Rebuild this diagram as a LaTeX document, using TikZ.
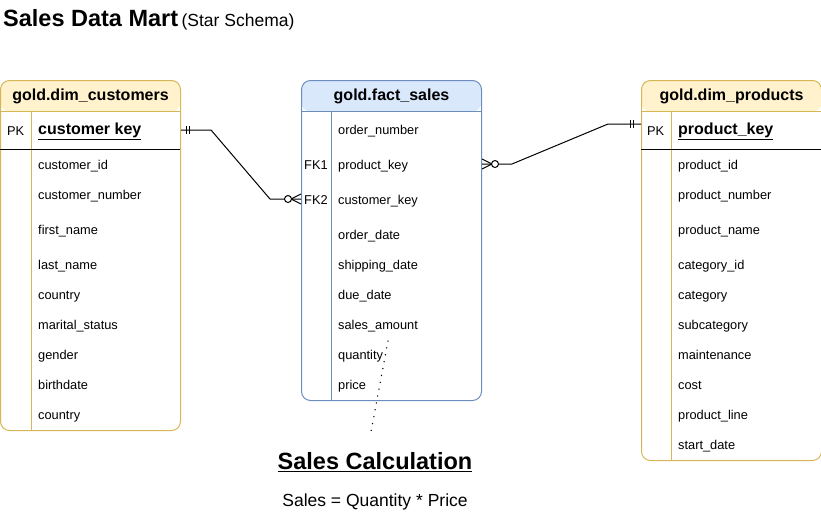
\documentclass[tikz,border=0pt]{standalone}
\usepackage{fontspec}
\setmainfont{Liberation Sans}
\usetikzlibrary{positioning,calc}
\definecolor{dimfill}{HTML}{FFF2CC}
\definecolor{dimline}{HTML}{D6B656}
\definecolor{factfill}{HTML}{DAE8FC}
\definecolor{factline}{HTML}{6C8EBF}

\begin{document}
\begin{tikzpicture}[x=1pt,y=-1pt,
  table/.style={draw=#1line,line width=1pt,rounded corners=9pt,minimum width=180pt,anchor=north west,inner sep=0pt,
    path picture={\fill[#1fill] (path picture bounding box.north west) rectangle ([yshift=-31pt]path picture bounding box.north east);}},
  tabletitle/.style={font=\fontsize{16}{19}\selectfont\bfseries,inner sep=0pt},
  field/.style={anchor=base west,font=\fontsize{12.8}{15}\selectfont,inner sep=0pt},
  keyfield/.style={anchor=west,font=\fontsize{16}{19}\selectfont\bfseries,inner sep=0pt},
  rel/.style={line width=1pt,black}]
  \useasboundingbox (0,0) rectangle (821,523);

  % title
  \node[anchor=base west,inner sep=0pt,font=\fontsize{23.5}{28}\selectfont\bfseries] (title) at (3,26) {Sales Data Mart};
  \node[anchor=base west,inner sep=0pt,font=\fontsize{17.5}{21}\selectfont] (subtitle) at ([xshift=3pt]title.base east) {(Star Schema)};

  % customers
  \node[table=dim,minimum height=350pt] (cust) at (0,80) {};
  \node[tabletitle] (custtitle) at ([yshift=-16.5pt]cust.north) {gold.dim\_customers};
  \draw[dimline,line width=1pt] (0,111) -- (180,111) (31,111) -- (31,430);
  \draw[black,line width=1pt] (0,149) -- (180,149);
  \node[field] (custpk) at (7,135.5) {PK};
  \node[keyfield] (custkey) at (38,131.5) {\underline{customer key}};
  \foreach \f/\y in {customer\_id/164,customer\_number/194,first\_name/229,last\_name/264,country/294,
      marital\_status/324,gender/354,birthdate/384,country/414}
    \node[field] (cust-\y) at (38,\y+5.5) {\f};

  % fact
  \node[table=fact,minimum height=320pt] (fact) at (301,80) {};
  \node[tabletitle] (facttitle) at ([yshift=-16.5pt]fact.north) {gold.fact\_sales};
  \draw[factline,line width=1pt] (301,111) -- (481,111) (331,111) -- (331,400);
  \coordinate (fk1) at (304,164);
  \coordinate (fk2) at (304,199);
  \node[field] (fk1label) at ([yshift=-5.5pt]fk1) {FK1};
  \node[field] (fk2label) at ([yshift=-5.5pt]fk2) {FK2};
  \foreach \f/\y in {order\_number/129,product\_key/164,customer\_key/199,order\_date/234,shipping\_date/264,
      due\_date/294,sales\_amount/324,quantity/354,price/384}
    \node[field] (fact-\y) at (338,\y+5.5) {\f};

  % products
  \node[table=dim,minimum height=380pt] (prod) at (641,80) {};
  \node[tabletitle] (prodtitle) at ([yshift=-16.5pt]prod.north) {gold.dim\_products};
  \draw[dimline,line width=1pt] (641,111) -- (821,111) (671,111) -- (671,460);
  \draw[black,line width=1pt] (641,149) -- (821,149);
  \node[field] (prodpk) at (647,135.5) {PK};
  \node[keyfield] (prodkey) at (678,131.5) {\underline{product\_key}};
  \foreach \f/\y in {product\_id/164,product\_number/194,product\_name/229,category\_id/264,category/294,
      subcategory/324,maintenance/354,cost/384,product\_line/414,start\_date/444}
    \node[field] (prod-\y) at (678,\y+5.5) {\f};

  % relations
  \draw[rel] ([yshift=1.5pt]cust.east |- custkey) -- ++(30,0) -- ([xshift=-31pt]fact.west |- fk2) -- (fact.west |- fk2);
  \foreach \dx in {5,8}
    \draw[rel] ([xshift=\dx pt,yshift=1.5pt]cust.east |- custkey) ++(0,-4) -- ++(0,8);
  \draw[rel] ([xshift=-10pt]fact.west |- fk2) -- ([yshift=5pt]fact.west |- fk2)
             ([xshift=-10pt]fact.west |- fk2) -- ([yshift=-5pt]fact.west |- fk2);
  \draw[rel,fill=white] ([xshift=-13pt]fact.west |- fk2) circle[radius=3.5pt];

  \draw[rel] (fact.east |- fk1) -- ++(30,0) -- ([xshift=-33pt,yshift=7.5pt]prod.west |- prodkey) -- ([yshift=7.5pt]prod.west |- prodkey);
  \foreach \dx in {-11,-8}
    \draw[rel] ([xshift=\dx pt,yshift=7.5pt]prod.west |- prodkey) ++(0,-4) -- ++(0,8);
  \draw[rel] ([xshift=10pt]fact.east |- fk1) -- ([yshift=5pt]fact.east |- fk1)
             ([xshift=10pt]fact.east |- fk1) -- ([yshift=-5pt]fact.east |- fk1);
  \draw[rel,fill=white] ([xshift=13pt]fact.east |- fk1) circle[radius=3.5pt];

  % calculation note
  \node[inner sep=0pt,font=\fontsize{23.5}{28}\selectfont\bfseries] (calc) at (375,462) {\underline{Sales Calculation}};
  \node[inner sep=0pt,font=\fontsize{17.5}{21}\selectfont] (formula) at (375,502) {Sales = Quantity * Price};
  \coordinate (amt) at (388,341);
  \coordinate (calctop) at (370,437);
  \draw[black,line width=1.5pt,line cap=round,dash pattern=on 0pt off 7pt] (amt) -- (calctop);
\end{tikzpicture}
\end{document}
